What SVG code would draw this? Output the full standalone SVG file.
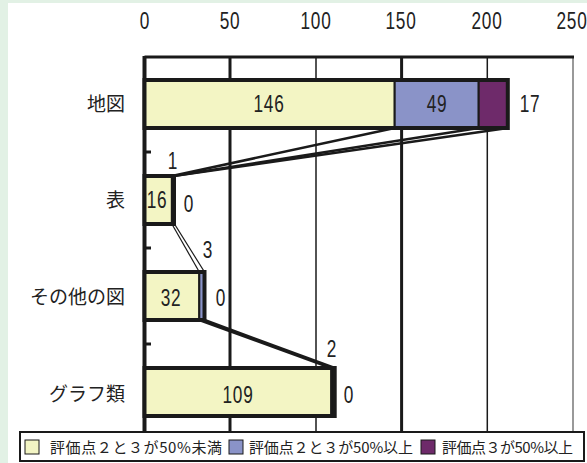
<svg xmlns="http://www.w3.org/2000/svg" width="587" height="463" viewBox="0 0 587 463">
<style>
.num{font-family:"Liberation Sans",Arial,sans-serif;font-size:23px;fill:#222;text-anchor:middle;letter-spacing:1px}
.cat{font-family:"Noto Sans CJK JP","Liberation Sans",sans-serif;font-size:19px;fill:#222;text-anchor:end}
.leg{font-family:"Noto Sans CJK JP","Liberation Sans",sans-serif;font-size:15px;fill:#222}
.y{fill:#f3f5c4}.b{fill:#8a93c8}.p{fill:#6e2a6a}
.seg{stroke:#1a1a1a;stroke-width:2}
.out{fill:none;stroke:#1a1a1a;stroke-width:4}
.grid{stroke:#1a1a1a}
.conn line{stroke:#1a1a1a;stroke-width:2.5}
</style>
<rect x="0" y="0" width="587" height="463" fill="#e2f1e5"/>
<rect x="8" y="3" width="579" height="460" fill="#ffffff"/>
<g id="axis">
<g class="num">
<text transform="translate(145,29) scale(0.75,1)">0</text>
<text transform="translate(230,29) scale(0.75,1)">50</text>
<text transform="translate(316,29) scale(0.75,1)">100</text>
<text transform="translate(401,29) scale(0.75,1)">150</text>
<text transform="translate(487,29) scale(0.75,1)">200</text>
<text transform="translate(572,29) scale(0.75,1)">250</text>
</g>
<line x1="573" y1="57" x2="573" y2="432" stroke="#999" stroke-width="2"/>
<line x1="487.3" y1="57" x2="487.3" y2="432" class="grid" stroke-width="1.5"/>
<line x1="401.6" y1="57" x2="401.6" y2="432" class="grid" stroke-width="3"/>
<line x1="316" y1="57" x2="316" y2="432" class="grid" stroke-width="1.5"/>
<line x1="230" y1="57" x2="230" y2="432" class="grid" stroke-width="3"/>
<line x1="144.5" y1="57" x2="574" y2="57" class="grid" stroke-width="3"/>
<line x1="144.5" y1="56" x2="144.5" y2="432" class="grid" stroke-width="4"/>
<line x1="144" y1="152" x2="151" y2="152" class="grid" stroke-width="3"/>
<line x1="144" y1="248" x2="151" y2="248" class="grid" stroke-width="3"/>
<line x1="144" y1="344" x2="151" y2="344" class="grid" stroke-width="3"/>
</g>
<g id="connectors" class="conn">
<line x1="394.7" y1="128" x2="171.9" y2="176"/>
<line x1="478.7" y1="128" x2="173.6" y2="176"/>
<line x1="507.8" y1="128" x2="173.6" y2="176"/>
<line x1="171.9" y1="224" x2="199.3" y2="272" style="stroke-width:1.2"/>
<line x1="174.5" y1="224" x2="204.5" y2="272" style="stroke-width:1.2"/>
<line x1="199.3" y1="320" x2="331.3" y2="368"/>
<line x1="204.5" y1="320" x2="334.7" y2="368"/>
</g>
<g id="bar-chizu">
<rect x="144.5" y="80" width="250.2" height="48" class="y seg"/>
<rect x="394.7" y="80" width="84" height="48" class="b seg"/>
<rect x="478.7" y="80" width="29.1" height="48" class="p seg"/>
<rect x="144.5" y="80" width="363.3" height="48" class="out"/>
<text class="cat" x="125" y="111">地図</text>
<g class="num">
<text transform="translate(269,112) scale(0.75,1)">146</text>
<text transform="translate(437,112) scale(0.75,1)">49</text>
<text transform="translate(530,112) scale(0.75,1)">17</text>
</g>
</g>
<g id="bar-hyo">
<rect x="144.5" y="176" width="27.4" height="48" class="y seg"/>
<rect x="171.9" y="176" width="2.5" height="48" fill="#1a1a1a" stroke="#1a1a1a" stroke-width="2"/>
<rect x="144.5" y="176" width="29.5" height="48" class="out"/>
<text class="cat" x="125" y="207">表</text>
<g class="num">
<text transform="translate(157,208) scale(0.75,1)">16</text>
<text transform="translate(173,169) scale(0.75,1)">1</text>
<text transform="translate(189,212) scale(0.75,1)">0</text>
</g>
</g>
<g id="bar-sonota">
<rect x="144.5" y="272" width="54.8" height="48" class="y seg"/>
<rect x="199.3" y="272" width="5.2" height="48" class="b seg"/>
<rect x="144.5" y="272" width="60" height="48" class="out"/>
<text class="cat" x="125" y="304">その他の図</text>
<g class="num">
<text transform="translate(171,306) scale(0.75,1)">32</text>
<text transform="translate(208,258) scale(0.75,1)">3</text>
<text transform="translate(221,306) scale(0.75,1)">0</text>
</g>
</g>
<g id="bar-graph">
<rect x="144.5" y="368" width="186.8" height="48" class="y seg"/>
<rect x="331.3" y="368" width="3.4" height="48" fill="#1a1a1a" stroke="#1a1a1a" stroke-width="2"/>
<rect x="144.5" y="368" width="190.2" height="48" class="out"/>
<text class="cat" x="125" y="401">グラフ類</text>
<g class="num">
<text transform="translate(238,403) scale(0.75,1)">109</text>
<text transform="translate(332,357) scale(0.75,1)">2</text>
<text transform="translate(349,403) scale(0.75,1)">0</text>
</g>
</g>
<g id="legend">
<rect x="20" y="432" width="564" height="29" fill="#ffffff" stroke="#1a1a1a" stroke-width="2"/>
<rect x="25" y="440" width="14" height="14" class="y" stroke="#1a1a1a" stroke-width="1"/>
<text class="leg" x="50" y="453" textLength="172">評価点２と３が50%未満</text>
<rect x="229" y="440" width="14" height="14" class="b" stroke="#1a1a1a" stroke-width="1"/>
<text class="leg" x="249" y="453" textLength="164">評価点２と３が50%以上</text>
<rect x="421" y="440" width="14" height="14" class="p" stroke="#1a1a1a" stroke-width="1"/>
<text class="leg" x="442" y="453" textLength="131">評価点３が50%以上</text>
</g>
</svg>
